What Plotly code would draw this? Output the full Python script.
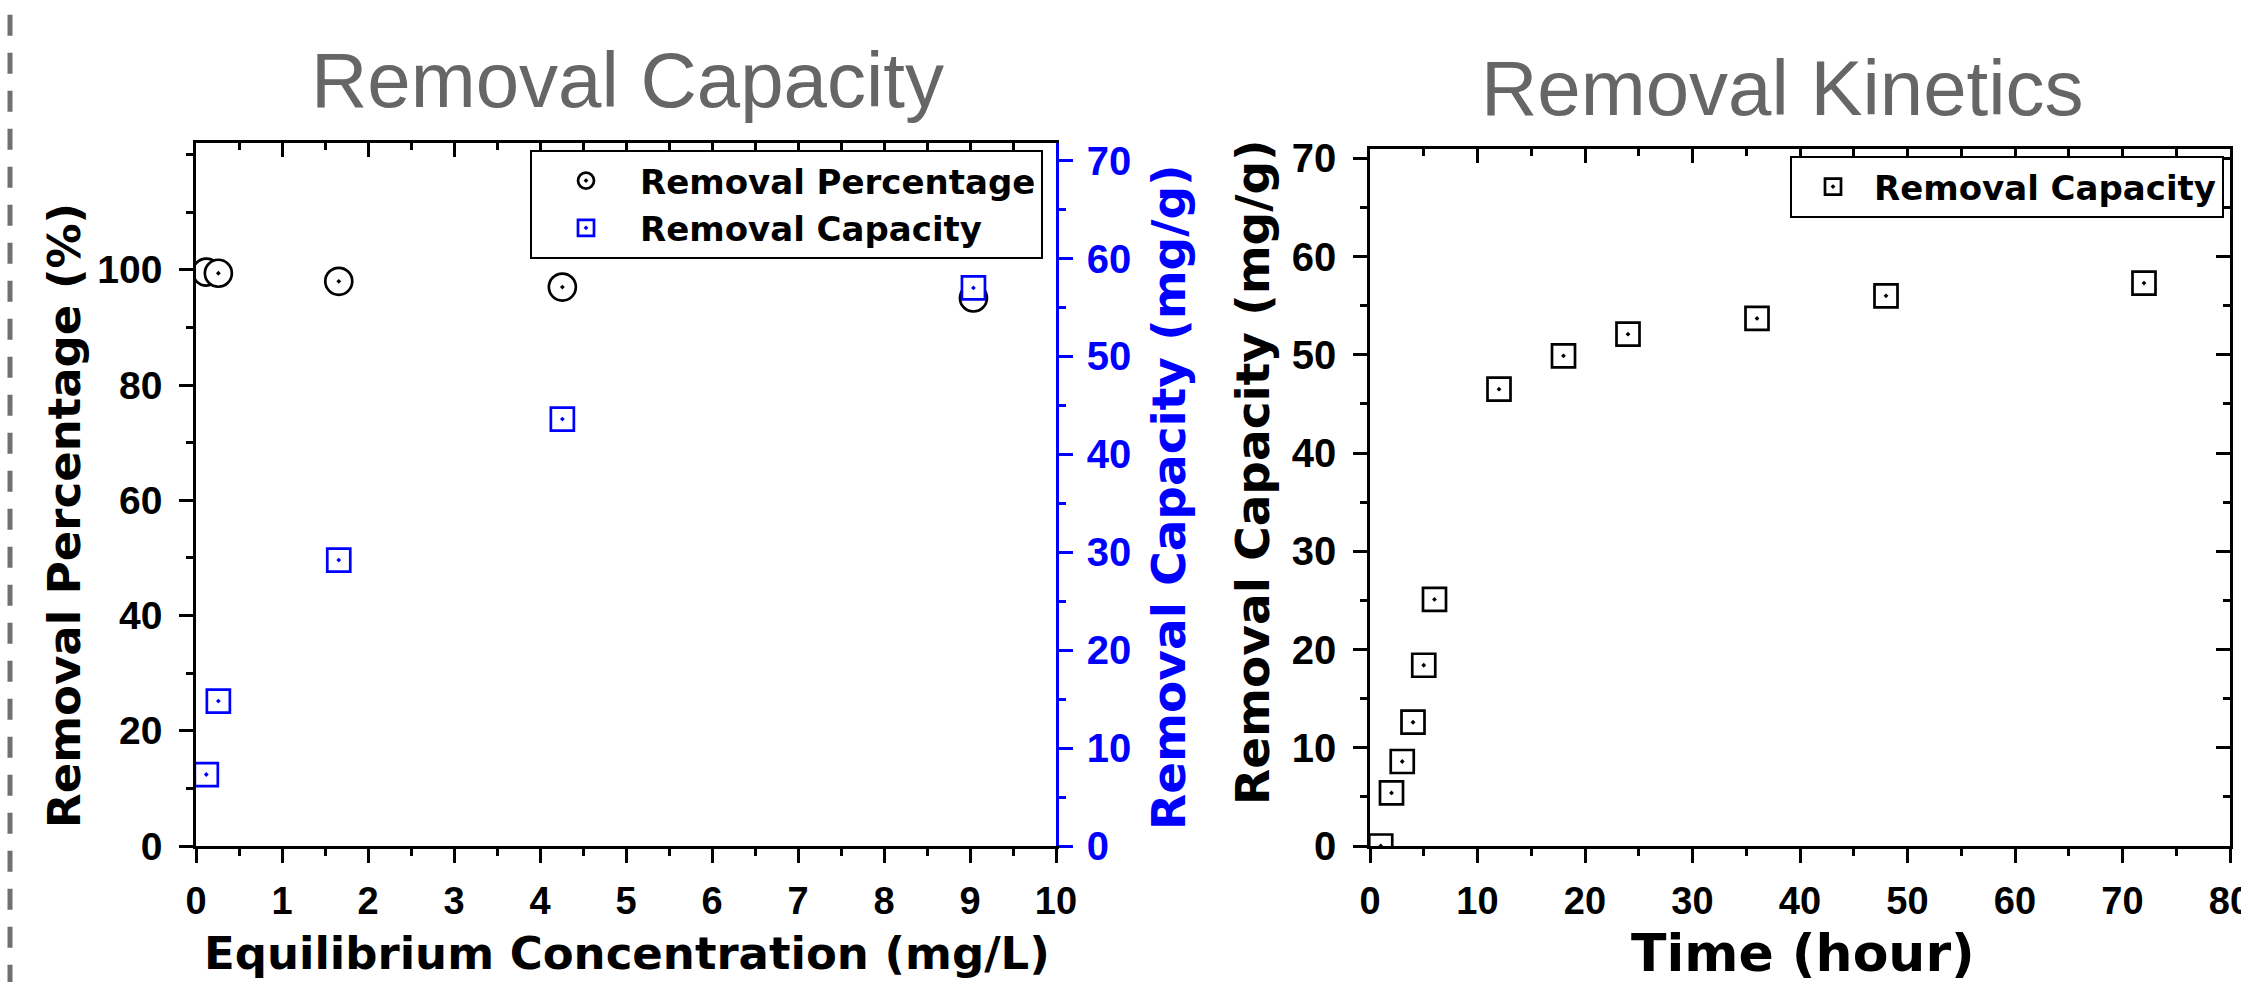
import plotly.graph_objects as go

# ---------------- data ----------------
conc = [0.12, 0.26, 1.66, 4.26, 9.04]            # Equilibrium concentration (mg/L)
removal_pct = [99.6, 99.4, 98.0, 97.0, 95.1]      # Removal percentage (%)
removal_cap = [7.3, 14.8, 29.2, 43.6, 57.0]       # Removal capacity (mg/g)

time_h = [1, 2, 3, 4, 5, 6, 12, 18, 24, 36, 48, 72]
kin_cap = [0.0, 5.4, 8.6, 12.6, 18.4, 25.1, 46.5, 49.9, 52.1, 53.7, 56.0, 57.3]

left_x_ticks = list(range(0, 11))
left_y_ticks = [0, 20, 40, 60, 80, 100]
left_y2_ticks = [0, 10, 20, 30, 40, 50, 60, 70]
right_x_ticks = list(range(0, 81, 10))
right_y_ticks = list(range(0, 71, 10))

W, H = 2241, 982
FONT = "Liberation Sans, Arial, sans-serif"
WIDE = "DejaVu Sans, Verdana, sans-serif"

def px_x(v):
    return v / W

def px_y(v):
    return 1 - v / H

L_X = [px_x(196), px_x(1056)]
L_Y = [px_y(846), px_y(143)]
R_X = [px_x(1370), px_x(2230)]
R_Y = [px_y(846), px_y(149)]

def base_axis(color="black", size=38):
    return dict(
        showgrid=False, zeroline=False, showline=True, linecolor=color, linewidth=2.5,
        ticks="outside", ticklen=14, tickwidth=2.5, tickcolor=color, automargin=False,
        ticklabeloverflow="allow",
        tickfont=dict(family=FONT, size=size, color=color, weight="bold"),
    )

fig = go.Figure()

fig.add_trace(go.Scatter(
    x=conc, y=removal_pct, mode="markers", name="Removal Percentage",
    xaxis="x", yaxis="y", legend="legend",
    marker=dict(symbol="circle-dot", size=27, color="white",
                line=dict(color="black", width=2.7)),
))
fig.add_trace(go.Scatter(
    x=conc, y=removal_cap, mode="markers", name="Removal Capacity",
    xaxis="x", yaxis="y2", legend="legend",
    marker=dict(symbol="square-dot", size=23, color="white",
                line=dict(color="#0000ff", width=2.7)),
))
fig.add_trace(go.Scatter(
    x=time_h, y=kin_cap, mode="markers", name="Removal Capacity",
    xaxis="x2", yaxis="y3", legend="legend2",
    marker=dict(symbol="square-dot", size=23, color="white",
                line=dict(color="black", width=2.7)),
))

# invisible carriers so the mirror (frame) axes get drawn
hidden = dict(mode="markers", marker=dict(opacity=0), showlegend=False, hoverinfo="skip")
fig.add_trace(go.Scatter(x=conc, y=removal_pct, xaxis="x3", yaxis="y", **hidden))
fig.add_trace(go.Scatter(x=time_h, y=kin_cap, xaxis="x4", yaxis="y3", **hidden))
fig.add_trace(go.Scatter(x=time_h, y=kin_cap, xaxis="x2", yaxis="y4", **hidden))

minor_in = dict(ticks="inside", ticklen=7, tickwidth=2.5, tickcolor="black")
minor_out = dict(ticks="outside", ticklen=7, tickwidth=2.5, tickcolor="black")

legend_font = dict(family=WIDE, size=34, color="black", weight="bold")

fig.update_layout(
    width=W, height=H,
    margin=dict(l=0, r=0, t=0, b=0, autoexpand=False),
    paper_bgcolor="white", plot_bgcolor="white",
    font=dict(family=FONT, color="black"),
    # ---- left panel ----
    xaxis=dict(base_axis(), domain=L_X, anchor="y", range=[0, 10],
               tickvals=left_x_ticks, minor=dict(minor_out, dtick=0.5),
               ticklabelstandoff=6),
    xaxis3=dict(base_axis(), overlaying="x", anchor="y", side="top", range=[0, 10],
                tickvals=left_x_ticks, ticks="inside", showticklabels=False,
                minor=dict(minor_in, dtick=0.5)),
    yaxis=dict(base_axis(size=39), domain=L_Y, anchor="x", range=[0, 122],
               tickvals=left_y_ticks, minor=dict(minor_out, dtick=10),
               ticklabelstandoff=9),
    yaxis2=dict(base_axis("#0000ff", size=40), overlaying="y", anchor="x", side="right",
                range=[0, 71.8], tickvals=left_y2_ticks,
                minor=dict(minor_out, dtick=5, tickcolor="#0000ff"),
                ticklabelstandoff=6),
    # ---- right panel ----
    xaxis2=dict(base_axis(), domain=R_X, anchor="y3", range=[0, 80],
                tickvals=right_x_ticks, minor=dict(minor_out, dtick=5),
                ticklabelstandoff=6),
    xaxis4=dict(base_axis(), overlaying="x2", anchor="y3", side="top", range=[0, 80],
                tickvals=right_x_ticks, ticks="inside", showticklabels=False,
                minor=dict(minor_in, dtick=5)),
    yaxis3=dict(base_axis(size=40), domain=R_Y, anchor="x2", range=[0, 70.95],
                tickvals=right_y_ticks, minor=dict(minor_out, dtick=5),
                ticklabelstandoff=9),
    yaxis4=dict(base_axis(), overlaying="y3", anchor="x2", side="right", range=[0, 70.95],
                tickvals=right_y_ticks, ticks="inside", showticklabels=False,
                minor=dict(minor_in, dtick=5)),
    legend=dict(x=px_x(1043), y=px_y(150), xanchor="right", yanchor="top",
                bgcolor="white", bordercolor="black", borderwidth=2,
                font=legend_font, itemwidth=98, tracegroupgap=0),
    legend2=dict(x=px_x(2224), y=px_y(156), xanchor="right", yanchor="top",
                 bgcolor="white", bordercolor="black", borderwidth=2,
                 font=legend_font, itemwidth=72),
    showlegend=True,
)

# titles
title_font = dict(family=FONT, size=78, color="#666666")
axis_title_font = dict(family=WIDE, size=45, color="black", weight="bold")
fig.add_annotation(text="Removal Capacity", xref="paper", yref="paper",
                   x=px_x(627), y=px_y(80), xanchor="center", yanchor="middle",
                   showarrow=False, font=title_font)
fig.add_annotation(text="Removal Kinetics", xref="paper", yref="paper",
                   x=px_x(1782), y=px_y(88), xanchor="center", yanchor="middle",
                   showarrow=False, font=title_font)
fig.add_annotation(text="Equilibrium Concentration (mg/L)", xref="paper", yref="paper",
                   x=px_x(627), y=px_y(953), xanchor="center", yanchor="middle",
                   showarrow=False, font=dict(axis_title_font, size=45))
fig.add_annotation(text="Time (hour)", xref="paper", yref="paper",
                   x=px_x(1803), y=px_y(953), xanchor="center", yanchor="middle",
                   showarrow=False, font=dict(axis_title_font, size=52))
fig.add_annotation(text="Removal Percentage (%)", xref="paper", yref="paper",
                   x=px_x(64), y=px_y(516), xanchor="center", yanchor="middle",
                   textangle=-90, showarrow=False, font=axis_title_font)
fig.add_annotation(text="Removal Capacity (mg/g)", xref="paper", yref="paper",
                   x=px_x(1168), y=px_y(497), xanchor="center", yanchor="middle",
                   textangle=-90, showarrow=False,
                   font=dict(axis_title_font, size=47, color="#0000ff"))
fig.add_annotation(text="Removal Capacity (mg/g)", xref="paper", yref="paper",
                   x=px_x(1252), y=px_y(472), xanchor="center", yanchor="middle",
                   textangle=-90, showarrow=False, font=dict(axis_title_font, size=47))

# dashed separator on the left edge
fig.add_shape(type="line", xref="paper", yref="paper",
              x0=px_x(10), x1=px_x(10), y0=px_y(14.7), y1=0,
              line=dict(color="#707070", width=5, dash="21px,17px"))

fig.write_html("out.html",
               config={"displayModeBar": False},
               post_script="document.body.style.margin='0px';"
                           "document.body.style.overflow='hidden';")
